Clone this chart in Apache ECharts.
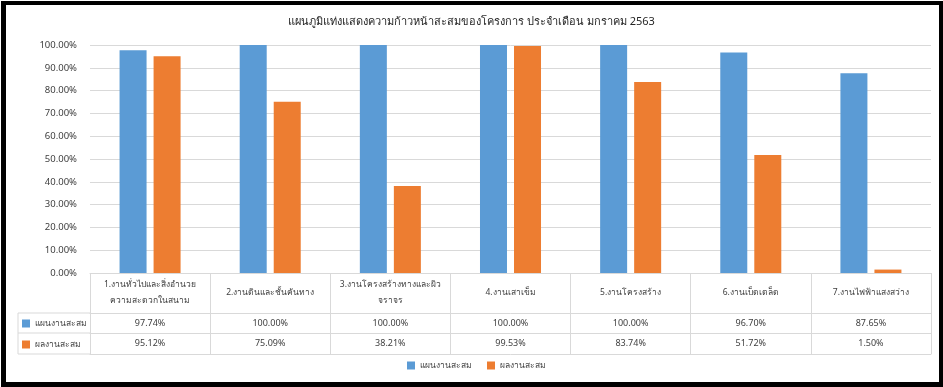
<!DOCTYPE html>
<html><head><meta charset="utf-8">
<script src="https://cdn.jsdelivr.net/npm/echarts@6/dist/echarts.min.js"></script>
<style>
html,body{margin:0;padding:0;background:#fff;}
#wrap{position:relative;width:943px;height:387px;overflow:hidden;}
#c{position:absolute;left:0;top:0;width:943px;height:387px;}
#frame{position:absolute;left:1px;top:1px;width:942px;height:386px;box-sizing:border-box;border-style:solid;border-color:#000;border-width:4px 4px 5px 5px;pointer-events:none;}
</style></head>
<body><div id="wrap"><div id="c"></div><div id="frame"></div></div>
<script>
const title = 'แผนภูมิแท่งแสดงความก้าวหน้าสะสมของโครงการ ประจำเดือน มกราคม 2563';
const categories = [
  '1.งานทั่วไปและสิ่งอำนวย\nความสะดวกในสนาม',
  '2.งานดินและชั้นคันทาง',
  '3.งานโครงสร้างทางและผิว\nจราจร',
  '4.งานเสาเข็ม',
  '5.งานโครงสร้าง',
  '6.งานเบ็ดเตล็ด',
  '7.งานไฟฟ้าแสงสว่าง'
];
const seriesNames = ['แผนงานสะสม', 'ผลงานสะสม'];
const planValues = [97.74, 100.00, 100.00, 100.00, 100.00, 96.70, 87.65];
const actualValues = [95.12, 75.09, 38.21, 99.53, 83.74, 51.72, 1.50];
const yTicks = [0, 10, 20, 30, 40, 50, 60, 70, 80, 90, 100];

const FONT = '"Noto Sans", Tahoma, sans-serif';
const TXT = '#404040';
const LINE = '#d9d9d9';
const fmt = v => v.toFixed(2) + '%';

const chart = echarts.init(document.getElementById('c'), null, {renderer: 'canvas'});
const GL = 90, GR = 12, GT = 45, GB = 114;
const plotBottom = 387 - GB;
const tableLeft = 18;
const row1 = plotBottom + 40, row2 = row1 + 20, row3 = row2 + 21;

const baseX = {
  type: 'category', data: categories, position: 'bottom',
  axisLine: {show: false}, axisTick: {show: false}, splitLine: {show: false}
};

chart.setOption({
  textStyle: {fontFamily: FONT},
  color: ['#5B9BD5', '#ED7D31'],
  title: {
    text: title, left: 'center', top: 11,
    textStyle: {fontSize: 11, fontWeight: 'normal', color: '#262626', fontFamily: FONT}
  },
  legend: [
    {
      data: seriesNames, bottom: 12, left: 402, itemWidth: 8, itemHeight: 8, itemGap: 15,
      icon: 'rect', textStyle: {fontSize: 8.5, color: TXT, fontFamily: FONT}, selectedMode: false
    },
    {
      data: seriesNames, orient: 'vertical', left: tableLeft + 4, top: row1 + 6,
      itemWidth: 8, itemHeight: 8, itemGap: 12, icon: 'rect', padding: 0,
      textStyle: {fontSize: 8.5, color: TXT, fontFamily: FONT}, selectedMode: false
    }
  ],
  grid: {left: GL, right: GR, top: GT, bottom: GB},
  xAxis: [
    Object.assign({}, baseX, {
      axisLine: {show: true, lineStyle: {color: LINE}},
      axisTick: {show: true, length: row3 - plotBottom, lineStyle: {color: LINE}},
      axisLabel: {interval: 0, margin: 20, verticalAlign: 'middle', lineHeight: 16, fontSize: 8.5, color: TXT, fontFamily: FONT}
    }),
    Object.assign({}, baseX, {
      offset: 40,
      axisLine: {show: true, lineStyle: {color: LINE}},
      axisLabel: {interval: 0, margin: 10, verticalAlign: 'middle', fontSize: 9, color: TXT, fontFamily: FONT,
        formatter: (v, i) => fmt(planValues[i])}
    }),
    Object.assign({}, baseX, {
      offset: 60,
      axisLine: {show: true, lineStyle: {color: LINE}},
      axisLabel: {interval: 0, margin: 10, verticalAlign: 'middle', fontSize: 9, color: TXT, fontFamily: FONT,
        formatter: (v, i) => fmt(actualValues[i])}
    }),
    Object.assign({}, baseX, {
      offset: 81,
      axisLine: {show: true, lineStyle: {color: LINE}},
      axisLabel: {show: false}
    })
  ],
  yAxis: {
    type: 'value', min: yTicks[0], max: yTicks[yTicks.length - 1], interval: yTicks[1] - yTicks[0],
    axisLine: {show: false}, axisTick: {show: false},
    splitLine: {lineStyle: {color: LINE}},
    axisLabel: {margin: 13, fontSize: 9.5, color: TXT, fontFamily: FONT, formatter: v => fmt(v)}
  },
  graphic: [
    {type: 'line', silent: true, shape: {x1: tableLeft, y1: row1, x2: GL, y2: row1}, style: {stroke: LINE, lineWidth: 1}},
    {type: 'line', silent: true, shape: {x1: tableLeft, y1: row2, x2: GL, y2: row2}, style: {stroke: LINE, lineWidth: 1}},
    {type: 'line', silent: true, shape: {x1: tableLeft, y1: row3, x2: GL, y2: row3}, style: {stroke: LINE, lineWidth: 1}},
    {type: 'line', silent: true, shape: {x1: tableLeft, y1: row1, x2: tableLeft, y2: row3}, style: {stroke: LINE, lineWidth: 1}}
  ],
  series: [
    {name: seriesNames[0], type: 'bar', data: planValues, barWidth: 27, barGap: '26%', xAxisIndex: 0},
    {name: seriesNames[1], type: 'bar', data: actualValues, barWidth: 27, barGap: '26%', xAxisIndex: 0}
  ]
});
</script></body></html>
